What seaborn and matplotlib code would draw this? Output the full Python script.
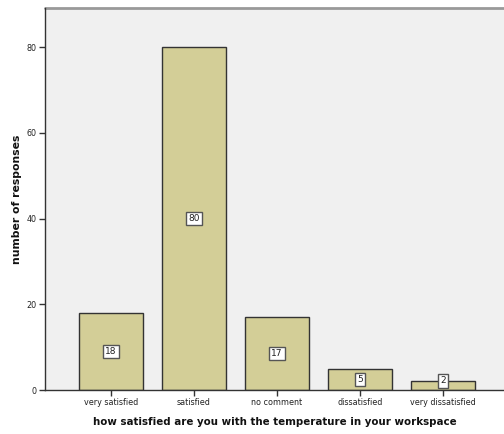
import matplotlib
matplotlib.use("Agg")
import matplotlib.pyplot as plt
import seaborn as sns
import pandas as pd

categories = ["very satisfied", "satisfied", "no comment", "dissatisfied", "very dissatisfied"]
counts = [18, 80, 17, 5, 2]
y_ticks = [0, 20, 40, 60, 80]

df = pd.DataFrame({"answer": categories, "count": counts})

sns.set_style("white")
plt.rcParams["font.family"] = ["DejaVu Sans"]

fig = plt.figure(figsize=(5.04, 4.34), dpi=100)
fig.patch.set_facecolor("white")
ax = fig.add_axes([45 / 504, 44 / 434, 459 / 504, 382 / 434])
ax.set_facecolor("#F0F0F0")

sns.barplot(data=df, x="answer", y="count", order=categories, color="#D3CE97",
            saturation=1, width=0.76, edgecolor="#333333", linewidth=1.0, ax=ax)

ax.set_xlim(-0.795, 4.735)
ax.set_ylim(0, 89.1)
ax.set_yticks(y_ticks)
ax.tick_params(axis="both", direction="out", length=4, width=1, color="#333333",
               labelsize=5.8, labelcolor="#222222", pad=2, left=True, bottom=True)
for side in ["top", "right"]:
    ax.spines[side].set_visible(False)
for side in ["left", "bottom"]:
    ax.spines[side].set_color("#333333")
    ax.spines[side].set_linewidth(1.0)
ax.axhline(89.1, color="#999999", linewidth=2.0, clip_on=False)

# value labels in small white boxes at mid-height of each bar
for i, v in enumerate(counts):
    ax.text(i, max(v / 2, 2.1), str(v), ha="center", va="center", fontsize=6.5,
            color="#222222",
            bbox=dict(boxstyle="square,pad=0.25", facecolor="white",
                      edgecolor="#555555", linewidth=1.0))

ax.set_xlabel("how satisfied are you with the temperature in your workspace",
              fontsize=7.4, fontweight="bold", labelpad=7, color="#111111")
ax.set_ylabel("number of responses", fontsize=7.8, fontweight="bold", labelpad=3,
              color="#111111")

fig.savefig("out.png", dpi=100)
